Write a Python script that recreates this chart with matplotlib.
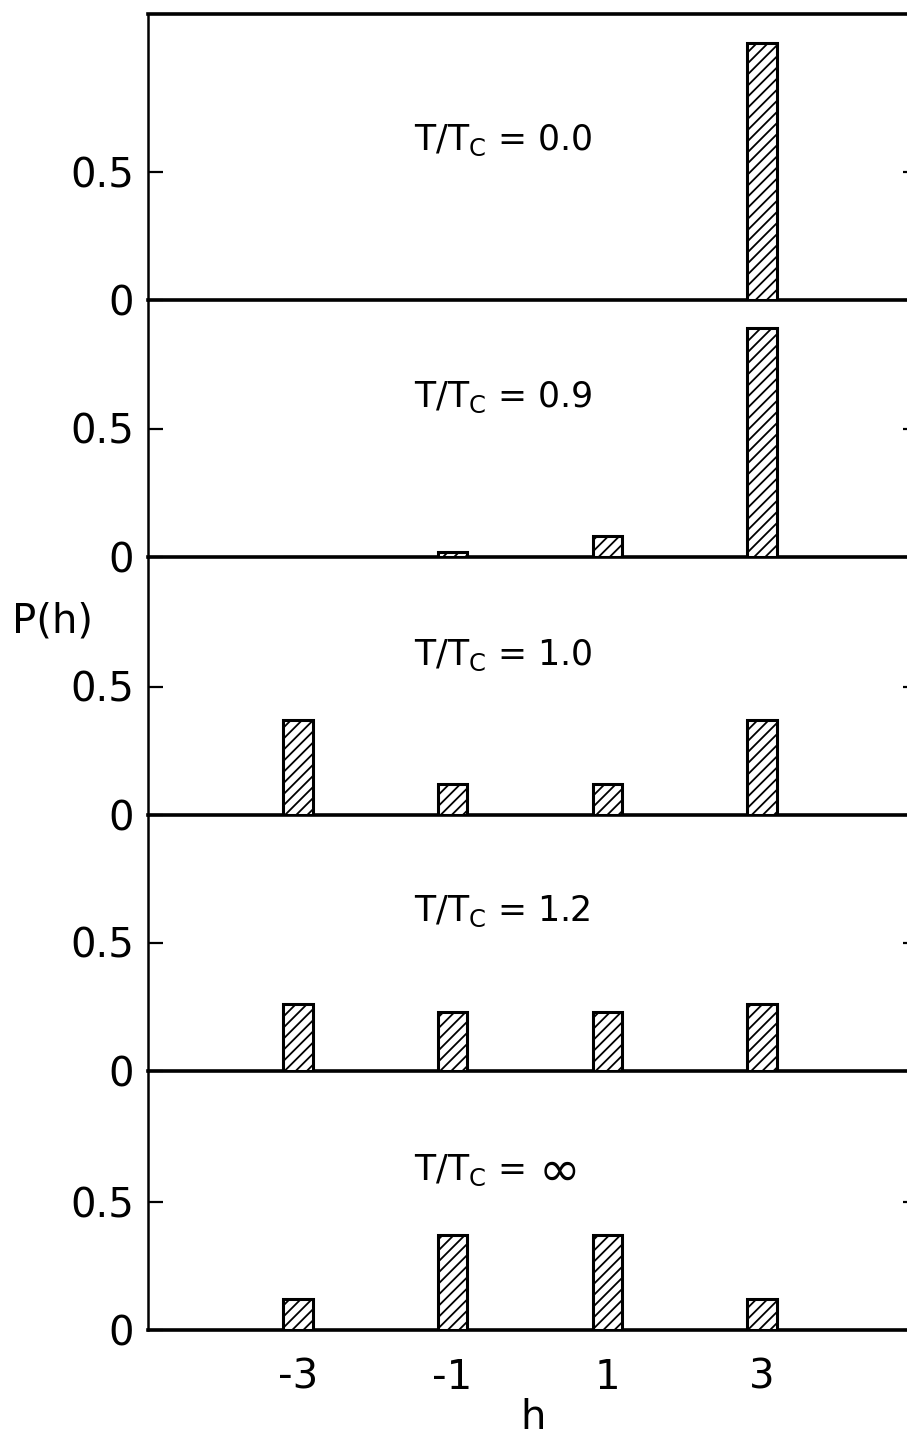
import numpy as np
import matplotlib.pyplot as plt

plt.rcParams['font.family'] = ['DejaVu Sans']
plt.rcParams['mathtext.fontset'] = 'dejavusans'
plt.rcParams['hatch.linewidth'] = 1.3

h_values = [-3, -1, 1, 3]
temp_labels = ["0.0", "0.9", "1.0", "1.2", r"$\infty$"]
p_t00 = [0.0, 0.0, 0.0, 1.0]
p_t09 = [0.0, 0.02, 0.08, 0.89]
p_t10 = [0.37, 0.12, 0.12, 0.37]
p_t12 = [0.26, 0.23, 0.23, 0.26]
p_tinf = [0.12, 0.37, 0.37, 0.12]
panels = [p_t00, p_t09, p_t10, p_t12, p_tinf]

W, H = 907, 1448
fig = plt.figure(figsize=(W / 100, H / 100), dpi=100)

# pixel layout (from top): panel bottoms and the top edge of the stack
x0, x1 = 148, 918
bottoms = [300, 557, 815, 1071, 1330]
tops = [14, 300, 557, 815, 1071]

for i, probs in enumerate(panels):
    ax = fig.add_axes([x0 / W, 1 - bottoms[i] / H,
                       (x1 - x0) / W, (bottoms[i] - tops[i]) / H])
    ax.patch.set_visible(False)
    ax.bar(h_values, probs, width=0.38, color='white', edgecolor='black',
           linewidth=2.2, hatch='///', zorder=3)
    ax.set_xlim(-4.94, 5.02)
    ax.set_ylim(0, (bottoms[i] - tops[i]) / 257.0)
    ax.set_yticks([0, 0.5])
    ax.set_yticklabels(['0', '0.5'])
    ax.tick_params(axis='y', direction='in', length=11, width=1.6,
                   labelsize=29, pad=10, right=True)
    ax.spines['left'].set_linewidth(1.8)
    ax.spines['right'].set_linewidth(1.8)
    ax.spines['bottom'].set_linewidth(2.6)
    ax.spines['top'].set_linewidth(2.6 if i == 0 else 0)
    if i < len(panels) - 1:
        ax.set_xticks([])
    else:
        ax.set_xticks(h_values)
        ax.set_xticklabels(['-3', '-1', '1', '3'])
        ax.tick_params(axis='x', length=0, labelsize=29, pad=20)
        ax.set_xlabel('h', fontsize=29, labelpad=0)

    lbl = temp_labels[i]
    if lbl.startswith('$'):
        # infinity sign drawn larger, as in the original lettering
        ax.text(-1.5, 0.62, r"T/T$_{\mathrm{C}}$ =", fontsize=25,
                ha='left', va='center')
        ax.text(0.1, 0.62, lbl, fontsize=36, ha='left', va='center')
    else:
        ax.text(-1.5, 0.62, r"T/T$_{\mathrm{C}}$ = " + lbl, fontsize=25,
                ha='left', va='center')

fig.text(12 / W, 1 - 622 / H, 'P(h)', fontsize=29, ha='left', va='center')

fig.savefig('out.png', dpi=100)
